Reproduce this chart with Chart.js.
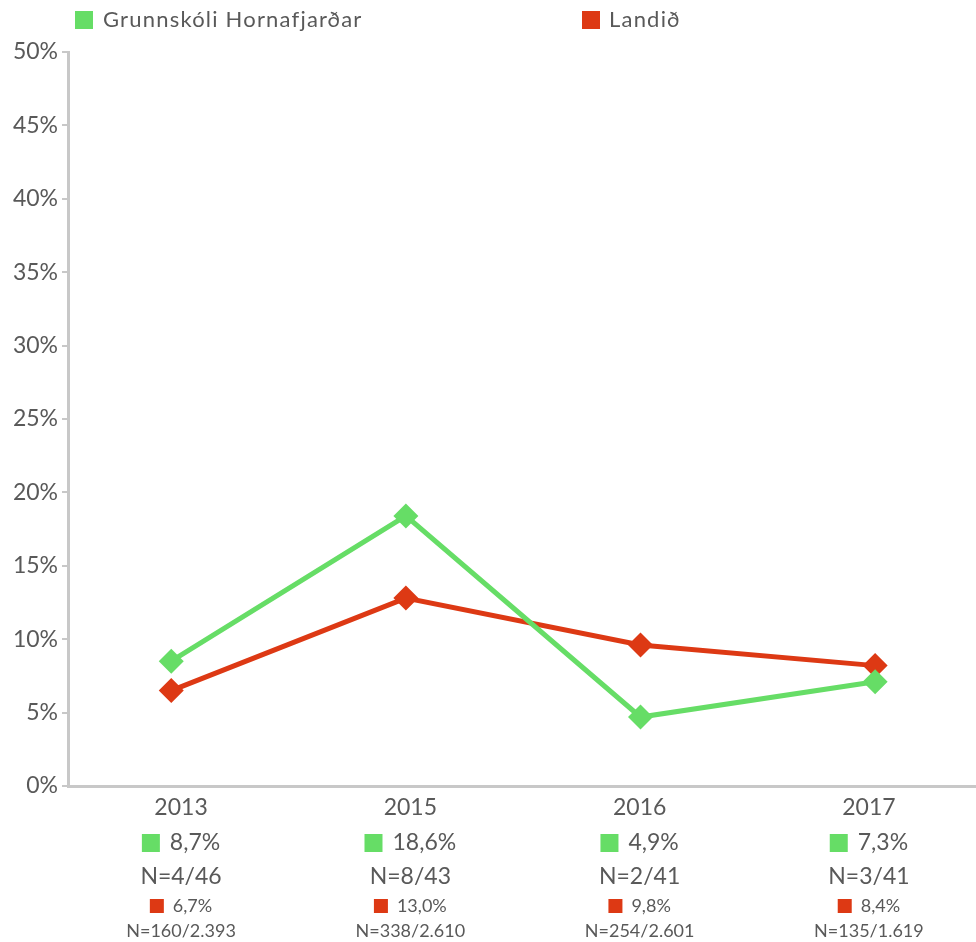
<!DOCTYPE html>
<html>
<head>
<meta charset="utf-8">
<script src="https://cdn.jsdelivr.net/npm/chart.js@4.4.0/dist/chart.umd.min.js"></script>
<style>
  html, body { margin: 0; padding: 0; background: #fff; }
  #wrap { width: 976px; height: 942px; position: relative; }
</style>
</head>
<body>
<div id="wrap"><canvas id="chart" width="976" height="942"></canvas></div>
<script>
const years = ['2013', '2015', '2016', '2017'];
const schoolName = 'Grunnskóli Hornafjarðar';
const countryName = 'Landið';
const schoolValues = [8.5, 18.4, 4.7, 7.1];
const countryValues = [6.5, 12.8, 9.6, 8.2];
const schoolPctLabels = ['8,7%', '18,6%', '4,9%', '7,3%'];
const schoolNLabels = ['N=4/46', 'N=8/43', 'N=2/41', 'N=3/41'];
const countryPctLabels = ['6,7%', '13,0%', '9,8%', '8,4%'];
const countryNLabels = ['N=160/2.393', 'N=338/2.610', 'N=254/2.601', 'N=135/1.619'];
const yTicks = [0, 5, 10, 15, 20, 25, 30, 35, 40, 45, 50];

const green = '#66dd66';
const red = '#dd3914';
const textColor = '#595959';
const axisColor = '#c8c8c8';
const fontFamily = 'Lato, "Noto Sans", sans-serif';

function toPoints(values) {
    let pts = [];
    for (let i = 0; i < values.length; i++) {
        pts.push({ x: i, y: values[i] });
    }
    return pts;
}

// legend + the multi line category labels under the axis
const labelPlugin = {
    id: 'labelPlugin',
    afterDraw(chart) {
        const ctx = chart.ctx;
        const xs = chart.scales.xLabels;
        ctx.save();
        ctx.textBaseline = 'middle';

        // legend
        ctx.textAlign = 'left';
        ctx.font = '22px ' + fontFamily;
        ctx.letterSpacing = '1.2px';
        ctx.fillStyle = green;
        ctx.fillRect(75, 11, 18, 18);
        ctx.fillStyle = textColor;
        ctx.fillText(schoolName, 103, 20);
        ctx.fillStyle = red;
        ctx.fillRect(582, 11, 18, 18);
        ctx.fillStyle = textColor;
        ctx.fillText(countryName, 609, 20);
        ctx.letterSpacing = '0px';

        for (let i = 0; i < years.length; i++) {
            let cx = xs.getPixelForValue(i);

            ctx.textAlign = 'center';
            ctx.fillStyle = textColor;
            ctx.font = '23px ' + fontFamily;
            ctx.fillText(years[i], cx, 808);
            ctx.fillText(schoolNLabels[i], cx, 877);

            // green square + pct
            let tw = ctx.measureText(schoolPctLabels[i]).width;
            let total = 18 + 10 + tw;
            let left = cx - total / 2;
            ctx.fillStyle = green;
            ctx.fillRect(left, 834, 18, 18);
            ctx.fillStyle = textColor;
            ctx.textAlign = 'left';
            ctx.fillText(schoolPctLabels[i], left + 28, 843);

            // red square + pct
            ctx.font = '18px ' + fontFamily;
            tw = ctx.measureText(countryPctLabels[i]).width;
            total = 14 + 9 + tw;
            left = cx - total / 2;
            ctx.fillStyle = red;
            ctx.fillRect(left, 899, 14, 14);
            ctx.fillStyle = textColor;
            ctx.fillText(countryPctLabels[i], left + 23, 906);

            ctx.textAlign = 'center';
            ctx.fillText(countryNLabels[i], cx, 931);
        }
        ctx.restore();
    }
};

const config = {
    type: 'line',
    data: {
        datasets: [
            {
                label: schoolName,
                data: toPoints(schoolValues),
                borderColor: green,
                backgroundColor: green,
                borderWidth: 5,
                pointStyle: 'rectRot',
                pointRadius: 12.5,
                pointBorderWidth: 0,
                pointBackgroundColor: green,
                tension: 0
            },
            {
                label: countryName,
                data: toPoints(countryValues),
                borderColor: red,
                backgroundColor: red,
                borderWidth: 5,
                pointStyle: 'rectRot',
                pointRadius: 12.5,
                pointBorderWidth: 0,
                pointBackgroundColor: red,
                tension: 0
            }
        ]
    },
    options: {
        responsive: false,
        animation: false,
        layout: {
            autoPadding: false,
            padding: { top: 52, right: 0, left: 0, bottom: 0 }
        },
        plugins: {
            legend: { display: false },
            tooltip: { enabled: false }
        },
        scales: {
            x: {
                type: 'linear',
                min: -0.44,
                max: 3.43,
                ticks: { display: false },
                grid: { display: false },
                border: { display: true, color: axisColor, width: 3 },
                afterFit: function (scale) {
                    scale.height = 156;
                }
            },
            xLabels: {
                type: 'linear',
                display: false,
                min: -0.493,
                max: 3.467
            },
            y: {
                min: 0,
                max: 50,
                afterBuildTicks: function (scale) {
                    scale.ticks = yTicks.map(function (v) { return { value: v }; });
                },
                ticks: {
                    color: textColor,
                    font: { family: fontFamily, size: 23 },
                    padding: 4,
                    callback: function (value) {
                        return value + '%';
                    }
                },
                grid: {
                    drawOnChartArea: false,
                    drawTicks: true,
                    tickLength: 6,
                    color: axisColor,
                    lineWidth: 2
                },
                border: { display: true, color: axisColor, width: 3 },
                afterFit: function (scale) {
                    scale.width = 68;
                }
            }
        }
    },
    plugins: [labelPlugin]
};

new Chart(document.getElementById('chart'), config);
</script>
</body>
</html>
